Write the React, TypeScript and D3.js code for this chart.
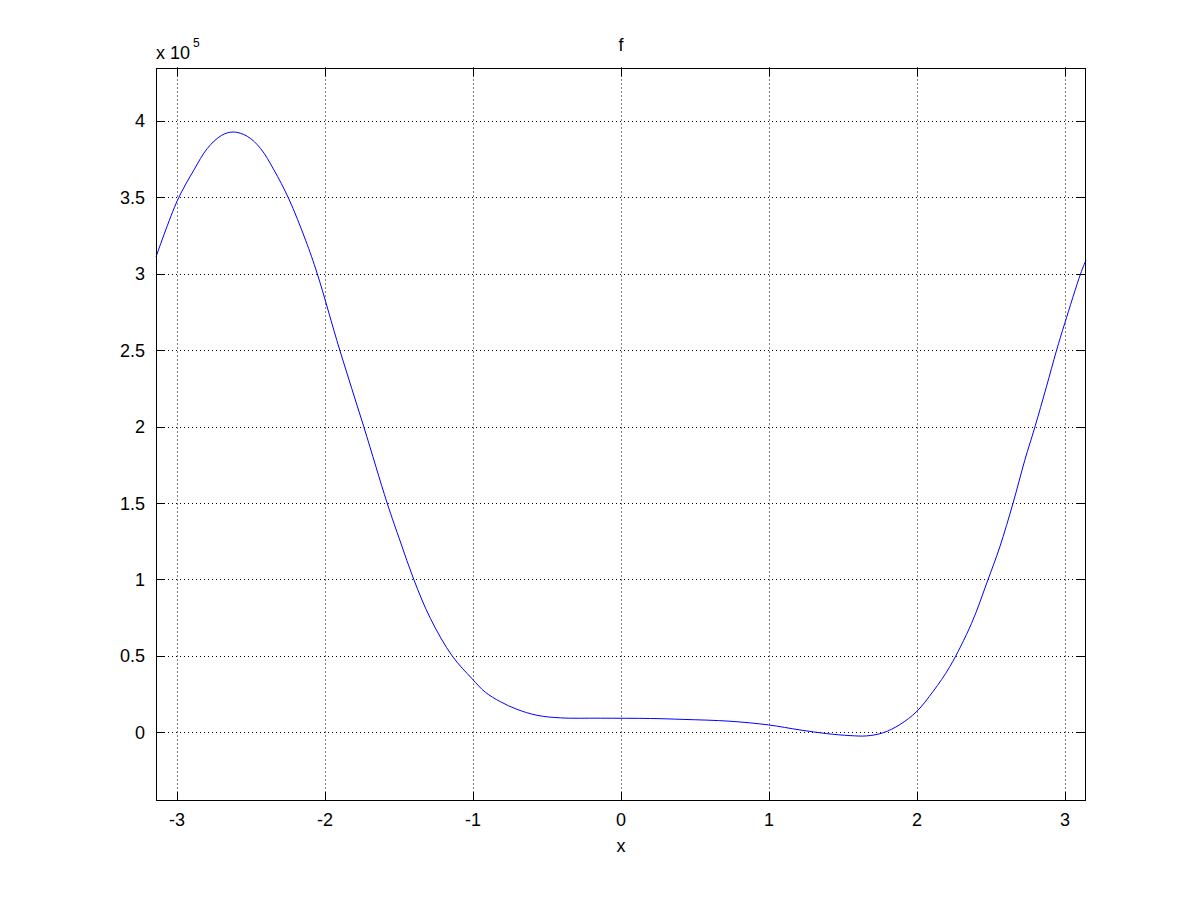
import React from "react";
import * as d3 from "d3";

const xs: number[] = [
  -Math.PI, -2.997, -2.885, -2.795, -2.70, -2.62, -2.525, -2.435, -2.345,
  -2.244, -2.131, -2.052, -1.9, -1.738, -1.58, -1.49,
  -1.4, -1.288, -1.141, -1.006, -0.917, -0.815, -0.703, -0.568, -0.41, -0.14,
  0.2, 0.42, 0.737, 0.995, 1.209, 1.39, 1.547, 1.66, 1.772, 1.884,
  1.997, 2.109, 2.222, 2.368, 2.48, 2.559, 2.649, 2.728, 2.795, 2.874,
  2.942, 2.998, 3.105, Math.PI,
];
const ys: number[] = [
  3.11, 3.48, 3.68, 3.82, 3.905, 3.928, 3.90, 3.82, 3.68,
  3.49, 3.22, 3.0, 2.5, 2.0, 1.5, 1.245,
  1.0, 0.745, 0.5, 0.35, 0.262, 0.2, 0.15, 0.111, 0.094, 0.092,
  0.09, 0.084, 0.072, 0.048, 0.015, -0.009, -0.022, -0.024, -0.003, 0.05,
  0.135, 0.268, 0.43, 0.712, 1.0, 1.212, 1.5, 1.78, 1.993, 2.26,
  2.497, 2.676, 3.0, 3.09,
];
const xTicks: number[] = [-3, -2, -1, 0, 1, 2, 3];
const yTicks: number[] = [0, 0.5, 1, 1.5, 2, 2.5, 3, 3.5, 4];
const yTickLabels: string[] = ["0", "0.5", "1", "1.5", "2", "2.5", "3", "3.5", "4"];
const xTickLabels: string[] = ["-3", "-2", "-1", "0", "1", "2", "3"];

const L = 156, R = 1086, T = 67.5, B = 801;
const FONT = "'Liberation Sans', Arial, Helvetica, sans-serif";

export default function App() {
  const x = d3.scaleLinear().domain([-Math.PI, Math.PI]).range([L, R]);
  const y = d3.scaleLinear().domain([-0.45, 4.35]).range([B, T]);
  const pts: [number, number][] = xs.map((v, i) => [v, ys[i]]);
  const line = d3
    .line<[number, number]>()
    .x((d) => x(d[0]))
    .y((d) => y(d[1]))
    .curve(d3.curveCatmullRom.alpha(0.5));
  const tl = 9;
  return (
    <svg width={1200} height={900} style={{ display: "block", position: "absolute", left: 0, top: 0 }}>
      <rect x={0} y={0} width={1200} height={900} fill="#fff" />
      <rect x={L} y={T} width={R - L} height={B - T} fill="#fff" />
      {/* grid */}
      {xTicks.map((t) => (
        <line key={"gx" + t} x1={Math.round(x(t)) + 0.5} x2={Math.round(x(t)) + 0.5} y1={T} y2={B}
          stroke="#000" strokeWidth={1} strokeDasharray="1,3" />
      ))}
      {yTicks.map((t) => (
        <line key={"gy" + t} y1={Math.round(y(t)) + 0.5} y2={Math.round(y(t)) + 0.5} x1={L} x2={R}
          stroke="#000" strokeWidth={1} strokeDasharray="1,3" />
      ))}
      {/* curve */}
      <path d={line(pts) || ""} fill="none" stroke="#0000ff" strokeWidth={1} />
      {/* box */}
      <rect x={L + 0.5} y={Math.round(T) + 0.5} width={R - L - 1} height={B - Math.round(T) - 1}
        fill="none" stroke="#000" strokeWidth={1} />
      {/* ticks */}
      {xTicks.map((t) => {
        const px = Math.round(x(t)) + 0.5;
        return (
          <g key={"tx" + t}>
            <line x1={px} x2={px} y1={B} y2={B - tl} stroke="#000" />
            <line x1={px} x2={px} y1={T} y2={T + tl} stroke="#000" />
          </g>
        );
      })}
      {yTicks.map((t) => {
        const py = Math.round(y(t)) + 0.5;
        return (
          <g key={"ty" + t}>
            <line x1={L} x2={L + tl} y1={py} y2={py} stroke="#000" />
            <line x1={R} x2={R - tl} y1={py} y2={py} stroke="#000" />
          </g>
        );
      })}
      {/* tick labels */}
      {xTicks.map((t, i) => (
        <text key={"lx" + t} x={x(t)} y={826} textAnchor="middle" fontFamily={FONT} fontSize={18} fill="#000">
          {xTickLabels[i]}
        </text>
      ))}
      {yTicks.map((t, i) => (
        <text key={"ly" + t} x={145} y={y(t) + 6.5} textAnchor="end" fontFamily={FONT} fontSize={18} fill="#000">
          {yTickLabels[i]}
        </text>
      ))}
      {/* exponent */}
      <text x={156} y={59} fontFamily={FONT} fontSize={18} fill="#000">x 10</text>
      <text x={193} y={47} fontFamily={FONT} fontSize={12} fill="#000">5</text>
      {/* title and label */}
      <text x={621} y={51} textAnchor="middle" fontFamily={FONT} fontSize={18} fill="#000">f</text>
      <text x={621} y={852} textAnchor="middle" fontFamily={FONT} fontSize={18} fill="#000">x</text>
    </svg>
  );
}
